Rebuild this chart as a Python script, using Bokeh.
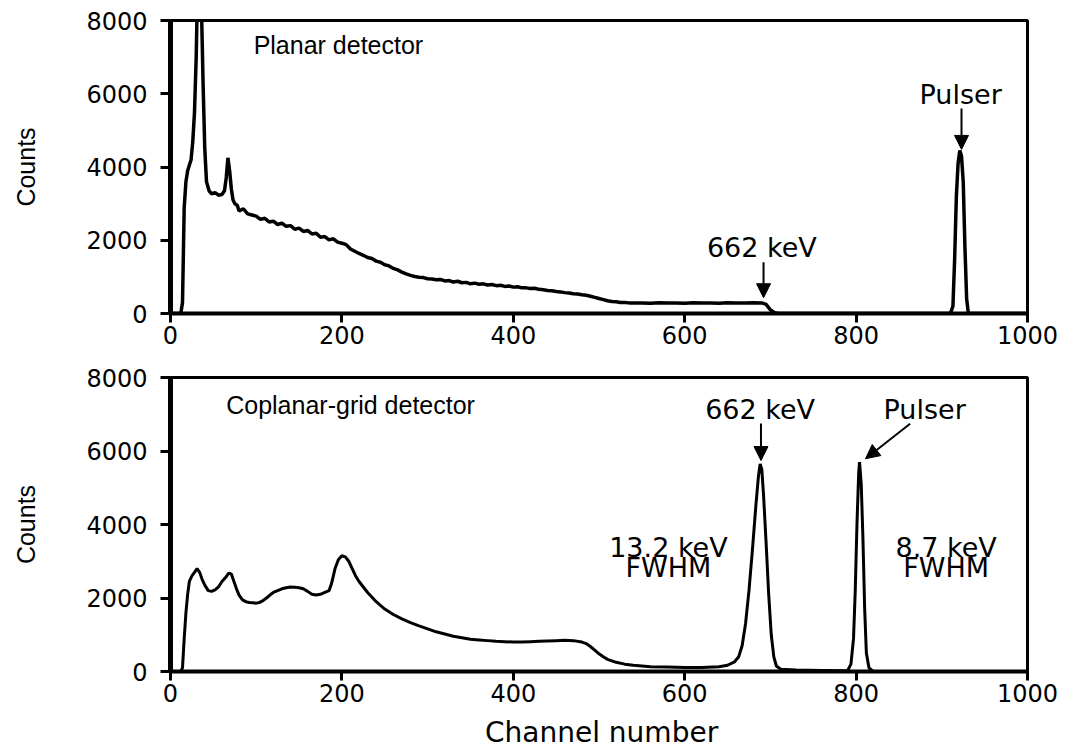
from bokeh.plotting import figure
from bokeh.layouts import column
from bokeh.models import FixedTicker, Label, Arrow, NormalHead, Range1d
from bokeh.embed import file_html
from bokeh.resources import INLINE

# ---------------- data ----------------
planar_channel = [0, 12, 14, 16, 18, 20, 22, 24, 26, 28, 30, 32, 34, 36, 38, 40, 42, 45, 48, 52,
                  56, 60, 63, 65, 67, 69, 71, 73, 75, 78,
                  80, 85, 90, 95, 100, 105, 110, 115, 120, 125, 130, 135, 140, 145, 150, 155, 160,
                  165, 170, 175, 180, 185, 190, 195, 200, 205, 210, 215, 220, 225, 230, 235, 240,
                  245, 250, 255, 260, 265, 270, 275, 280, 285, 290, 295, 300, 305, 310, 315, 320,
                  325, 330, 335, 340, 345, 350, 355, 360, 365, 370, 375, 380, 385, 390, 395, 400,
                  405, 410, 415, 420, 425, 430, 435, 440, 445, 450, 455, 460, 465, 470, 475, 480,
                  485, 490, 495, 500, 505, 510, 515, 520, 525, 530, 535, 540, 550, 560, 570, 580,
                  590, 600, 610, 620, 630, 640, 650, 660, 670, 680, 690, 695, 700, 705, 710,
                  910, 913, 915, 917, 919, 921, 923, 925, 927, 929, 931, 1000]
planar_counts = [0, 0, 300, 2900, 3600, 3900, 4050, 4200, 4700, 5500, 7000, 9500, 10000, 8500, 6300,
                 4500, 3600, 3350, 3270, 3300, 3230, 3250, 3350, 3700, 4250, 3900, 3400, 3100, 3000, 2950,
                 2800, 2860, 2720, 2690, 2660, 2570, 2600, 2500, 2520, 2430, 2470, 2380, 2400, 2300,
                 2330, 2240, 2270, 2170, 2190, 2080, 2100, 2010, 2040, 1950, 1920, 1880, 1760, 1700,
                 1640, 1590, 1530, 1500, 1430, 1400, 1330, 1300, 1230, 1190, 1130, 1080, 1040, 1010,
                 990, 980, 950, 940, 920, 930, 890, 900, 860, 880, 840, 850, 810, 830, 800, 810, 780,
                 790, 760, 770, 740, 750, 720, 730, 700, 700, 680, 690, 660, 650, 630, 620, 600, 590,
                 570, 560, 540, 530, 510, 500, 470, 440, 410, 380, 350, 330, 320, 300, 300, 290, 285,
                 290, 280, 295, 285, 290, 280, 295, 285, 290, 280, 295, 285, 290, 295, 290, 250, 100,
                 20, 0,
                 0, 200, 1500, 3200, 4100, 4450, 4300, 3600, 1800, 400, 0, 0]

coplanar_channel = [0, 12, 14, 16, 18, 20, 22, 25, 28, 31, 34, 37, 40, 44, 48, 52, 56, 60, 64, 68,
                    71, 74, 77, 80, 84, 88, 92, 96, 100, 104, 108, 112, 116, 120, 125, 130, 135, 140,
                    145, 150, 155, 160, 165, 170, 175, 180, 185, 188, 192, 196, 200, 204, 208, 212,
                    216, 220, 225, 230, 240, 250, 260, 270, 280, 290, 300, 310, 320, 330, 340, 350,
                    360, 370, 380, 390, 400, 410, 420, 430, 440, 450, 460, 470, 480, 485, 490, 495,
                    500, 505, 510, 520, 530, 540, 550, 560, 580, 600, 620, 640, 650, 658, 663, 667,
                    671, 675, 679, 683, 686, 688, 690, 692, 695, 698, 701, 704, 707, 712, 730, 760,
                    790, 794, 797, 799, 801, 803, 804, 806, 808, 810, 812, 815, 820, 1000]
coplanar_counts = [0, 0, 100, 900, 1600, 2100, 2450, 2600, 2700, 2800, 2700, 2500, 2350, 2200, 2180,
                   2220, 2300, 2450, 2550, 2680, 2650, 2450, 2250, 2080, 1950, 1900, 1880, 1870,
                   1860, 1880, 1930, 2000, 2080, 2150, 2200, 2250, 2280, 2300, 2290, 2280, 2250,
                   2180, 2100, 2080, 2100, 2150, 2200, 2400, 2800, 3050, 3150, 3120, 3000, 2800,
                   2600, 2450, 2300, 2150, 1900, 1700, 1550, 1430, 1330, 1240, 1160, 1080, 1020,
                   960, 920, 880, 860, 840, 820, 810, 800, 800, 810, 820, 830, 840, 850, 840, 800,
                   760, 680, 580, 480, 400, 330, 250, 200, 170, 150, 130, 120, 110, 110, 130, 170,
                   260, 400, 700, 1300, 2200, 3300, 4500, 5300, 5650, 5500, 4800, 3500, 2100, 1000,
                   400, 150, 60, 40, 30, 20, 200, 900, 2200, 4000, 5400, 5700, 5100, 3600, 1700, 500,
                   100, 0, 0]

x_ticks = [0, 200, 400, 600, 800, 1000]
y_ticks = [0, 2000, 4000, 6000, 8000]
x_title = "Channel number"
y_title = "Counts"

TICK_FONT = "DejaVu Sans"
ANN_FONT = "DejaVu Sans"


def make_fig(height, top, bottom):
    p = figure(width=1073, height=height, x_range=Range1d(0, 1000), y_range=Range1d(0, 8000),
               output_backend="svg", toolbar_location=None,
               min_border_left=170, min_border_right=46,
               min_border_top=top, min_border_bottom=bottom)
    p.background_fill_color = "white"
    p.border_fill_color = "white"
    p.xgrid.visible = False
    p.ygrid.visible = False
    p.outline_line_color = "black"
    p.outline_line_width = 3
    p.outline_line_alpha = 1.0

    p.xaxis.ticker = FixedTicker(ticks=x_ticks)
    p.yaxis.ticker = FixedTicker(ticks=y_ticks)
    for ax in (p.xaxis, p.yaxis):
        ax.minor_tick_line_color = None
        ax.major_tick_in = 0
        ax.major_tick_line_width = 3
        ax.major_tick_line_color = "black"
        ax.axis_line_color = "black"
        ax.major_label_text_font = TICK_FONT
        ax.major_label_text_font_size = "24px"
        ax.major_label_text_color = "black"
    p.xaxis.major_tick_out = 9
    p.yaxis.major_tick_out = 10
    p.xaxis.axis_line_width = 4
    p.yaxis.axis_line_width = 5
    p.xaxis.major_label_standoff = 3
    p.yaxis.major_label_standoff = 13

    p.yaxis.axis_label = y_title
    p.yaxis.axis_label_text_font = "Liberation Sans"
    p.yaxis.axis_label_text_font_size = "25px"
    p.yaxis.axis_label_text_font_style = "normal"
    p.yaxis.axis_label_text_color = "black"
    p.yaxis.axis_label_standoff = 43
    return p


def add_text(p, x, y, text, align="center", size="27px", font=ANN_FONT):
    p.add_layout(Label(x=x, y=y, text=text, text_align=align, text_baseline="alphabetic",
                       text_font=font, text_font_size=size, text_color="black"))


def add_arrow(p, x0, y0, x1, y1):
    p.add_layout(Arrow(end=NormalHead(size=14, fill_color="black", line_color="black", line_width=1),
                       x_start=x0, y_start=y0, x_end=x1, y_end=y1,
                       line_color="black", line_width=2))


# ---------- top: planar ----------
p1 = make_fig(353, 20, 40)
p1.line(planar_channel, planar_counts, line_color="black", line_width=3.5)
add_text(p1, 97, 7330, "Planar detector", align="left", size="25px", font="Liberation Sans")
add_text(p1, 690, 1800, "662 keV")
add_arrow(p1, 692, 1400, 692, 430)
add_text(p1, 922, 5980, "Pulser")
add_arrow(p1, 923, 5600, 923, 4480)

# ---------- bottom: coplanar grid ----------
p2 = make_fig(358, 24, 40)
p2.line(coplanar_channel, coplanar_counts, line_color="black", line_width=3)
add_text(p2, 65, 7240, "Coplanar-grid detector", align="left", size="25px", font="Liberation Sans")
add_text(p2, 688, 7130, "662 keV")
add_arrow(p2, 689, 6750, 689, 5740)
add_text(p2, 880, 7130, "Pulser")
add_arrow(p2, 863, 6740, 811, 5790)
add_text(p2, 581, 3374, "13.2 keV")
add_text(p2, 581, 2830, "FWHM")
add_text(p2, 905, 3374, "8.7 keV")
add_text(p2, 905, 2830, "FWHM")

# ---------- strip holding the shared x-axis title (same frame as the panels) ----------
p3 = figure(width=1073, height=39, x_range=Range1d(0, 1000), y_range=Range1d(0, 39),
            output_backend="svg", toolbar_location=None,
            min_border_left=170, min_border_right=46, min_border_top=0, min_border_bottom=0)
p3.axis.visible = False
p3.xgrid.visible = False
p3.ygrid.visible = False
p3.outline_line_color = None
p3.background_fill_color = "white"
p3.border_fill_color = "white"
add_text(p3, 503, 18, x_title, size="28px")

layout = column(p1, p2, p3)
open("out.html", "w").write(file_html(layout, INLINE))
